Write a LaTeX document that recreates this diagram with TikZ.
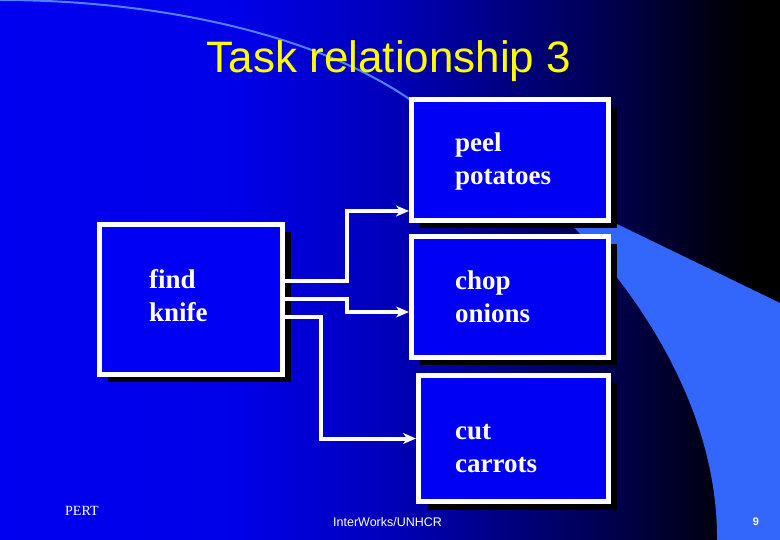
\documentclass[tikz,border=0pt]{standalone}
\usepackage{fontspec}
\setmainfont{Liberation Serif}
\newfontfamily\arialfont{Liberation Sans}
\usepackage{tikz}
\usetikzlibrary{calc,shadows,arrows.meta}
\definecolor{bgA}{RGB}{0,0,240}
\definecolor{bgB}{RGB}{0,0,232}
\definecolor{bgC}{RGB}{0,0,185}
\definecolor{bgD}{RGB}{0,0,110}
\definecolor{bgE}{RGB}{0,0,70}
\definecolor{bgF}{RGB}{0,0,25}
\definecolor{boxblue}{RGB}{0,0,245}
\definecolor{wedgeblue}{RGB}{51,102,250}
\definecolor{arcblue}{RGB}{80,130,255}
\definecolor{titleyellow}{RGB}{255,255,0}

\begin{document}
\begin{tikzpicture}[x=1pt,y=-1pt,
	taskbox/.style={draw=white,line width=5pt,fill=boxblue,inner sep=0pt,
		drop shadow={shadow xshift=8pt,shadow yshift=-8pt,fill=black,opacity=1}},
	tasktext/.style={text=white,font=\bfseries\fontsize{27}{33}\selectfont,
		align=left,inner sep=0pt,anchor=base west},
	wire/.style={draw=white,line width=4pt,-{Stealth[length=13pt,width=11pt,inset=4pt]}}]
			\useasboundingbox (0,0) rectangle (780,540);
			% background
			\foreach \xa/\xb/\ca/\cb in {0/240/bgA/bgB,240/390/bgB/bgC,390/545/bgC/bgD,545/625/bgD/bgE,625/700/bgE/bgF,700/750/bgF/black,750/780/black/black}
				\shade[left color=\ca,right color=\cb] (\xa-0.5,0) rectangle (\xb+0.5,540);
			\draw [arcblue,line width=2pt] (0,0) .. controls (160,0) and (320,35) .. (415,103);
			\fill [wedgeblue] (524,179) -- (780,303) -- (780,540) -- (717,540) .. controls (718,420) and (650,290) .. (524,179) -- cycle;
			% title
			\node [text=titleyellow,font=\arialfont\fontsize{44}{50}\selectfont,anchor=base] (title) at (389,73) {Task relationship 3};
			% tasks
			\node [taskbox,minimum width=183pt,minimum height=150pt] (knife) at (191,299.5) {};
			\node [taskbox,minimum width=197pt,minimum height=121pt] (peel) at (510,160) {};
			\node [taskbox,minimum width=197pt,minimum height=121pt] (chop) at (510,297) {};
			\node [taskbox,minimum width=190pt,minimum height=126pt] (cut) at (513.5,438.5) {};
			\node [tasktext] (knifetxt) at (149,322) {find\\knife};
			\node [tasktext] (peeltxt) at (455,185) {peel\\potatoes};
			\node [tasktext] (choptxt) at (455,323) {chop\\onions};
			\node [tasktext] (cuttxt) at (455,472) {cut\\carrots};
			% links
			\draw [wire] ($(knife.east)+(0,-18)$) -- ++(61.5,0) |- ($(peel.west)+(0,51)$);
			\draw [wire] (knife.east) -- ++(61.5,0) |- ($(chop.west)+(0,15)$);
			\draw [wire] ($(knife.east)+(0,18)$) -- ++(35.5,0) |- (cut.west);
			% footer
			\node [text=white,font=\fontsize{14}{16}\selectfont,anchor=base west,inner sep=0pt] (pert) at (65,515) {PERT};
			\node [text=white,font=\arialfont\fontsize{12.5}{14}\selectfont,anchor=base west,inner sep=0pt] (org) at (333,526) {InterWorks/UNHCR};
			\node [text=white,font=\arialfont\bfseries\fontsize{11}{13}\selectfont,anchor=base,inner sep=0pt] (pagenum) at (756,525) {9};
		\end{tikzpicture}
\end{document}
